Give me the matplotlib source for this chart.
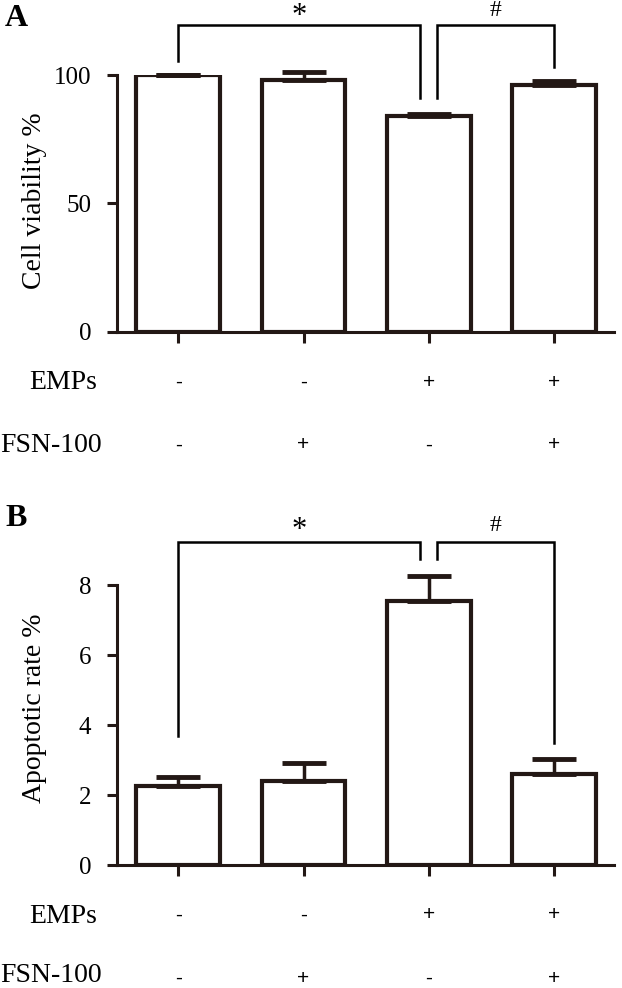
import matplotlib.pyplot as plt
import numpy as np

# values
emps = ['-', '-', '+', '+']
fsn = ['-', '+', '-', '+']
viability = [100, 98, 84, 96]
viability_err = [0, 3, 1, 1.5]
apoptosis = [2.25, 2.4, 7.55, 2.6]
apoptosis_err = [0.27, 0.52, 0.7, 0.42]

ink = '#231815'
serif = 'Liberation Serif'
sans = 'Liberation Sans'

fig = plt.figure(figsize=(6.22, 9.88), dpi=100)
W, H = 622.0, 988.0

def px_axes(left, top, right, bottom):
  return fig.add_axes([left/W, 1-bottom/H, (right-left)/W, (bottom-top)/H])

def draw_panel(ax, vals, errs, ymax, yticks, ylabel, label_y):
  x = np.arange(len(vals))
  ax.bar(x, vals, width=0.67, color='white', edgecolor=ink, linewidth=3, zorder=2)
  eb = ax.errorbar(x, vals, yerr=[np.zeros(len(errs)), errs], fmt='none', ecolor=ink,
                   elinewidth=2.5, capsize=16, capthick=3.5, zorder=3)
  for art in eb.lines[1]:
    art.set_clip_on(False)
  for art in eb.lines[2]:
    art.set_clip_on(False)
  ax.set_xlim(-0.49, 3.48)
  ax.set_ylim(0, ymax)
  ax.set_yticks(yticks)
  ax.set_xticks(x)
  ax.set_xticklabels([])
  for s in ['top', 'right']:
    ax.spines[s].set_visible(False)
  for s in ['left', 'bottom']:
    ax.spines[s].set_linewidth(2.2)
    ax.spines[s].set_color(ink)
  ax.tick_params(axis='y', direction='out', length=7.5, width=2.2, color=ink, pad=11)
  ax.tick_params(axis='x', direction='out', length=8, width=2.2, color=ink)
  for t in ax.get_yticklabels():
    t.set_fontfamily(serif)
    t.set_fontsize(18)
  ax.set_ylabel(ylabel, fontfamily=serif, fontsize=20)
  ax.yaxis.set_label_coords(-0.14, label_y)
  # sign rows under the bars
  for i in range(len(vals)):
    ax.annotate(emps[i], xy=(i, 0), xycoords=('data', 'axes fraction'),
                xytext=(0, -50*0.72), textcoords='offset points',
                ha='center', va='center', fontfamily=sans, fontsize=15)
    ax.annotate(fsn[i], xy=(i, 0), xycoords=('data', 'axes fraction'),
                xytext=(0, -113*0.72), textcoords='offset points',
                ha='center', va='center', fontfamily=sans, fontsize=15)

def bracket(ax, x1, x2, y1, y2, top, mark, size, off):
  ax.plot([x1, x1, x2, x2], [y1, top, top, y2], color='black', lw=1.8,
          clip_on=False, solid_joinstyle='miter')
  ax.annotate(mark, xy=((x1+x2)/2, top), xytext=(0, off), textcoords='offset points',
              ha='center', va='center', fontfamily=serif, fontsize=size,
              annotation_clip=False)

# panel A
axA = px_axes(117, 75, 614, 332)
draw_panel(axA, viability, viability_err, 100, [0, 50, 100], 'Cell viability %', 0.51)
bracket(axA, 0, 2-0.07, 105.5, 91, 119.5, '*', 22, 6)
bracket(axA, 2+0.07, 3, 91, 103, 119.5, '#', 17, 10)

# panel B
axB = px_axes(117, 585, 614, 865)
draw_panel(axB, apoptosis, apoptosis_err, 8, [0, 2, 4, 6, 8], 'Apoptotic rate %', 0.56)
bracket(axB, 0, 2-0.07, 3.7, 8.74, 9.23, '*', 22, 8)
bracket(axB, 2+0.07, 3, 8.74, 3.5, 9.23, '#', 17, 12)

# row labels and panel letters
for ybase in [382, 916]:
  fig.text(97/W, 1-ybase/H, 'EMPs', ha='right', va='center', fontfamily=serif, fontsize=20)
for ybase in [445, 975]:
  fig.text(102/W, 1-ybase/H, 'FSN-100', ha='right', va='center', fontfamily=serif, fontsize=20)
fig.text(5/W, 1-19/H, 'A', ha='left', va='center', fontfamily=serif, fontsize=23, fontweight='bold')
fig.text(5/W, 1-518/H, 'B', ha='left', va='center', fontfamily=serif, fontsize=23, fontweight='bold')

fig.savefig('out.png', dpi=100)
